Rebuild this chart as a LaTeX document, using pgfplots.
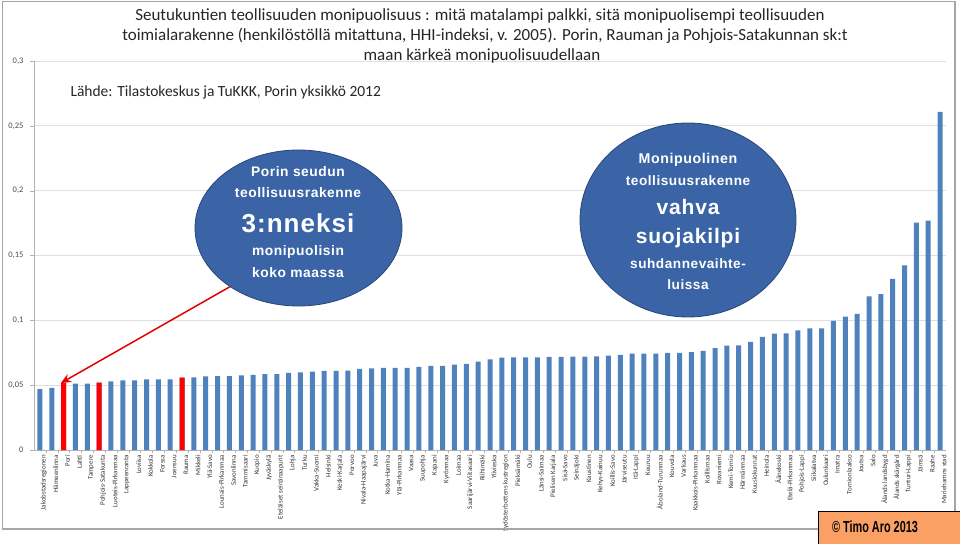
\documentclass[border=0pt]{standalone}
\usepackage{fontspec}
\setmainfont{Carlito}
\newfontfamily\arialsp{Liberation Sans}[LetterSpace=4]
\newfontfamily\arial{Liberation Sans}
\usepackage{graphicx}
\usepackage{pgfplots}
\pgfplotsset{compat=1.18}
\usetikzlibrary{arrows.meta}
\definecolor{barblue}{RGB}{79,129,189}
\definecolor{barred}{RGB}{255,0,0}
\definecolor{ellblue}{RGB}{59,100,166}
\definecolor{ellline}{RGB}{40,70,120}
\definecolor{orangebox}{RGB}{250,160,100}
\definecolor{framegray}{RGB}{166,166,166}

\begin{document}
\begin{tikzpicture}
\path[use as bounding box] (0,0) rectangle (960pt,543pt);
\begin{axis}[at={(34pt,93pt)}, anchor=south west, scale only axis,
  width=912pt, height=389pt,
  xmin=0.5, xmax=77.5, ymin=0, ymax=0.3,
  ybar, bar width=5pt,
  axis x line*=bottom, axis y line*=left,
  axis line style={draw=gray!60, -},
  ymajorgrids, grid style={draw=gray!25, line width=0.8pt},
  ytick={0,0.05,0.1,0.15,0.2,0.25,0.3},
  yticklabels={0,{0,05},{0,1},{0,15},{0,2},{0,25},{0,3}},
  yticklabel style={font=\fontsize{8.5}{10}\selectfont, text=black!70, xshift=-3pt},
  tick align=outside, major tick length=4pt, minor tick length=3pt,
  tick style={draw=gray!60},
  major x tick style={draw=none},
  minor xtick={1.5,2.5,...,76.5},
  xtick={1,...,77},
  xticklabels={Jakobstadsregionen,Hämeenlinna,Pori,Lahti,Tampere,Pohjois-Satakunta,Luoteis-Pirkanmaa,Lappeenranta,Loviisa,Kokkola,Forssa,Joensuu,Rauma,Mikkeli,Ylä-Savo,Lounais-Pirkanmaa,Savonlinna,Tammisaari,Kuopio,Jyväskylä,Eteläiset seinänaapurit,Lohja,Turku,Vakka-Suomi,Helsinki,Keski-Karjala,Porvoo,Nivala-Haapajärvi,Juva,Kotka-Hamina,Ylä-Pirkanmaa,Vaasa,Suupohja,Kajaani,Kyrönmaa,Loimaa,Saarijärvi-Viitasaari,Riihimäki,Ylivieska,Sydösterbottens kustregion,Pieksämäki,Oulu,Länsi-Saimaa,Pielisen Karjala,Sisä-Savo,Seinäjoki,Kaustinen,Kehys-Kainuu,Koillis-Savo,Järviseutu,Itä-Lappi,Keuruu,Åboland-Turunmaa,Kouvola,Varkaus,Kaakkois-Pirkanmaa,Koillismaa,Rovaniemi,Kemi-Tornio,Härmänmaa,Kuusiokunnat,Heinola,Äänekoski,Etelä-Pirkanmaa,Pohjois-Lappi,Siikalatva,Oulunkaari,Imatra,Tornionlaakso,Joutsa,Salo,Ålands landsbygd,Ålands skärgård,Tunturi-Lappi,Jämsä,Raahe,Mariehamns stad},
  xticklabel style={rotate=90, anchor=east, font=\fontsize{6.9}{8}\selectfont, text=black!80, inner sep=1pt, yshift=-4pt},
]
\addplot[fill=barblue, draw=none, bar shift=0pt] coordinates {
(1,0.047) (2,0.048) (3,0.0515) (4,0.0512) (5,0.0512) (6,0.052) (7,0.053) (8,0.0536) (9,0.0536) (10,0.0544)
(11,0.0544) (12,0.0544) (13,0.0559) (14,0.056) (15,0.0567) (16,0.057) (17,0.057) (18,0.0575) (19,0.0579) (20,0.0585)
(21,0.0585) (22,0.0595) (23,0.0598) (24,0.0605) (25,0.061) (26,0.061) (27,0.0612) (28,0.0626) (29,0.063) (30,0.0633)
(31,0.0633) (32,0.0633) (33,0.0641) (34,0.0649) (35,0.0649) (36,0.0659) (37,0.0664) (38,0.0682) (39,0.0698) (40,0.0713)
(41,0.0715) (42,0.0715) (43,0.0715) (44,0.0718) (45,0.0718) (46,0.072) (47,0.072) (48,0.0723) (49,0.0728) (50,0.0733)
(51,0.0744) (52,0.0744) (53,0.0744) (54,0.0749) (55,0.0749) (56,0.0754) (57,0.0764) (58,0.0785) (59,0.0805) (60,0.0807)
(61,0.0833) (62,0.0872) (63,0.0897) (64,0.09) (65,0.0923) (66,0.0938) (67,0.0938) (68,0.0995) (69,0.1028) (70,0.1049)
(71,0.1185) (72,0.1202) (73,0.132) (74,0.1423) (75,0.1754) (76,0.1769) (77,0.2608)};
\addplot[fill=barred, draw=none, bar shift=0pt] coordinates {(3,0.0515) (6,0.052) (13,0.0559)};
\end{axis}

\begin{scope}[shift={(0pt,543pt)}, x=1pt, y=-1pt]
\draw[framegray, line width=1.5pt] (2.5,1.5) rectangle (955,529);
\node[font=\fontsize{17}{20}\selectfont, text=black!85] at (480,16) {Seutukuntien teollisuuden monipuolisuus : mitä matalampi palkki, sitä monipuolisempi teollisuuden};
\node[font=\fontsize{17}{20}\selectfont, text=black!85] at (485,36) {toimialarakenne (henkilöstöllä mitattuna, HHI-indeksi, v. 2005). Porin, Rauman ja Pohjois-Satakunnan sk:t};
\node[font=\fontsize{17}{20}\selectfont, text=black!85] at (482,56) {maan kärkeä monipuolisuudellaan};
\node[anchor=west, font=\fontsize{15.5}{18}\selectfont, text=black!85] at (67,92) {Lähde: Tilastokeskus ja TuKKK, Porin yksikkö 2012};

\draw[red!90!black, line width=1.5pt, -{Stealth[length=10pt,width=9pt]}] (240,281) -- (61,383);

\draw[fill=ellblue, draw=ellline, line width=0.8pt] (298.5,228) ellipse [x radius=103.5, y radius=78];
\node[text=white, font=\arialsp\bfseries\fontsize{13.8}{16}\selectfont] at (298,172) {Porin seudun};
\node[text=white, font=\arialsp\bfseries\fontsize{13.8}{16}\selectfont] at (298,193) {teollisuusrakenne};
\node[text=white, font=\arialsp\bfseries\fontsize{26}{30}\selectfont] at (298,223) {3:nneksi};
\node[text=white, font=\arialsp\bfseries\fontsize{13.8}{16}\selectfont] at (298,252) {monipuolisin};
\node[text=white, font=\arialsp\bfseries\fontsize{13.8}{16}\selectfont] at (298,273) {koko maassa};

\draw[fill=ellblue, draw=ellline, line width=0.8pt] (688,220) ellipse [x radius=108, y radius=97];
\node[text=white, font=\arialsp\bfseries\fontsize{14.2}{16}\selectfont] at (688,160) {Monipuolinen};
\node[text=white, font=\arialsp\bfseries\fontsize{13.6}{16}\selectfont] at (688,181) {teollisuusrakenne};
\node[text=white, font=\arialsp\bfseries\fontsize{21}{24}\selectfont] at (688,207) {vahva};
\node[text=white, font=\arialsp\bfseries\fontsize{21}{24}\selectfont] at (688,238) {suojakilpi};
\node[text=white, font=\arialsp\bfseries\fontsize{13.6}{16}\selectfont] at (688,264) {suhdannevaihte-};
\node[text=white, font=\arialsp\bfseries\fontsize{13.6}{16}\selectfont] at (688,285) {luissa};

\draw[fill=orangebox, draw=black, line width=1pt] (818,511) rectangle (966,549);
\node[font=\arial\bfseries\fontsize{16}{18}\selectfont] at (875,527) {\scalebox{0.68}[1]{© Timo Aro 2013}};
\end{scope}
\end{tikzpicture}
\end{document}
